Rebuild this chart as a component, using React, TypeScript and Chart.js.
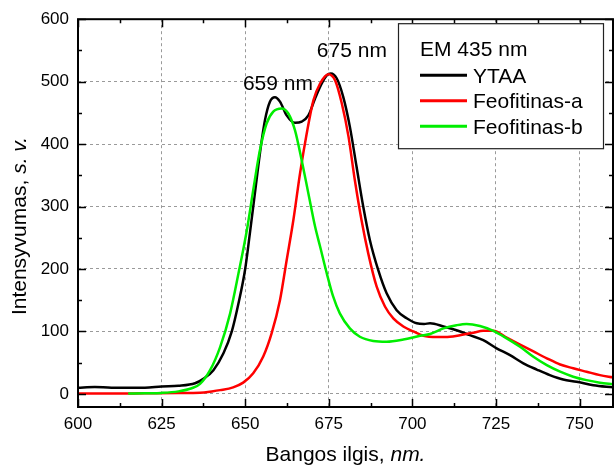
import React, { useEffect, useRef } from "react";
import { Chart, registerables } from "chart.js";

Chart.register(...registerables);

const FONT = "'Liberation Sans', Arial, Helvetica, sans-serif";

// Axis ranges and tick labels
const xRange = [600, 760];
const yRange = [-21, 600];
const xTicks = [600, 625, 650, 675, 700, 725, 750];
const yTicks = [0, 100, 200, 300, 400, 500, 600];

// Series
const seriesLabels = ["YTAA", "Feofitinas-a", "Feofitinas-b"];
const seriesColors = ["#000000", "#ff0000", "#00ee00"];

const ytaaX = [600, 605, 610, 615, 620, 625, 630, 635, 637.5, 640.5, 643.5, 646, 648, 650, 651.4, 652.9, 654.4, 655.9, 657.4, 658.9, 660.4, 662.4, 664.9, 666.9, 668.9, 670.9, 672.9, 674.4, 675.6, 677.4, 679.3, 681.3, 683.3, 685.3, 687.3, 689.8, 692.3, 695.3, 698.3, 701.3, 703.5, 705.3, 709.3, 713.2, 717.2, 721.2, 725.2, 729.2, 733.2, 737.2, 741.1, 745.1, 749.1, 754.1, 760];
const ytaaY = [10, 11, 10, 10, 10, 12, 13, 17, 24, 38, 65, 100, 145, 200, 257, 321, 385, 438, 468, 475, 468, 446, 434, 436, 446, 473, 497, 510, 513, 505, 476, 428, 364, 300, 246, 198, 161, 134, 121, 113, 112, 113, 108, 102, 94, 86, 73, 62, 49, 39, 30, 23, 19.5, 14, 10.5];

const feoAX = [600, 610, 620, 630, 636.5, 640, 642.5, 646.4, 649.4, 652.4, 655.4, 657.9, 660.4, 662.4, 664.4, 666.4, 668.4, 670.4, 672.4, 674.9, 676.9, 678.9, 680.9, 682.8, 684.8, 686.8, 689.3, 691.8, 694.3, 697.3, 700.3, 703.3, 707.3, 711.2, 714.2, 718.2, 721.2, 724.2, 728.2, 732.2, 736.2, 740.2, 744.2, 748.1, 752.1, 756.1, 760];
const feoAY = [0.5, 0.5, 1, 1.5, 2, 4, 6, 10.5, 18, 33, 60, 97, 150, 214, 278, 353, 417, 470, 497, 512, 502, 465, 412, 342, 278, 225, 172, 140, 121, 108, 100, 93, 91, 91.5, 94, 98, 101, 101, 90, 79, 68, 57, 47, 41, 35.5, 30, 26.5];

const feoBX = [615, 620, 625, 630, 634, 636.5, 639.5, 642.5, 645.5, 648, 650.5, 652.4, 654.4, 656.4, 658.4, 660.9, 662.9, 664.9, 666.9, 668.9, 670.9, 672.4, 674.4, 676.3, 678.3, 681.3, 684.3, 688.3, 692.3, 697.3, 702.3, 705.3, 709.3, 713.2, 716.2, 720.2, 724.2, 728.2, 732.2, 736.2, 740.2, 744.2, 748.1, 752.1, 756.1, 760];
const feoBY = [0.5, 1, 1.6, 4, 9, 16, 38, 75, 129, 193, 262, 326, 390, 433, 452, 457, 449, 422, 374, 321, 268, 236, 193, 156, 129, 105, 91.5, 84.7, 83.5, 87, 93, 96, 105, 110, 112, 108.7, 101, 89, 75.5, 59.5, 46, 35.5, 27.5, 22, 18, 15.4];

// Texts
const legendTitle = "EM 435 nm";
const peakTexts = ["659 nm", "675 nm"];
const peakTextX = [659.8, 681.9];
const peakTextY = [486, 540];
const xTitleParts = ["Bangos ilgis, ", "nm."];
const yTitleParts = ["Intensyvumas, ", "s. v."];

const toPoints = (xs: number[], ys: number[]) => xs.map((x, i) => ({ x, y: ys[i] }));

function drawMixed(ctx: CanvasRenderingContext2D, parts: string[], cx: number, by: number, size: number) {
  const fN = `${size}px ${FONT}`;
  const fI = `italic ${size}px ${FONT}`;
  ctx.font = fN;
  const w1 = ctx.measureText(parts[0]).width;
  ctx.font = fI;
  const w2 = ctx.measureText(parts[1]).width;
  const x0 = cx - (w1 + w2) / 2;
  ctx.textAlign = "left";
  ctx.textBaseline = "alphabetic";
  ctx.fillStyle = "#000";
  ctx.font = fN;
  ctx.fillText(parts[0], x0, by);
  ctx.font = fI;
  ctx.fillText(parts[1], x0 + w1, by);
}

const extrasPlugin = {
  id: "extras",
  afterDatasetsDraw(chart: any) {
    const ctx: CanvasRenderingContext2D = chart.ctx;
    const { left, right, top, bottom } = chart.chartArea;
    const xs = chart.scales.x;
    const ys = chart.scales.y;
    ctx.save();

    // inward ticks on all four sides
    const xMinor: number[] = [];
    for (let i = 0; i < xTicks.length - 1; i++) xMinor.push((xTicks[i] + xTicks[i + 1]) / 2);
    const yMinor: number[] = [];
    for (let i = 0; i < yTicks.length - 1; i++) yMinor.push((yTicks[i] + yTicks[i + 1]) / 2);
    ctx.strokeStyle = "#000";
    ctx.lineWidth = 1.5;
    ctx.beginPath();
    const tickX = (v: number, len: number) => {
      const p = Math.round(xs.getPixelForValue(v)) + 0.5;
      ctx.moveTo(p, bottom);
      ctx.lineTo(p, bottom - len);
      ctx.moveTo(p, top);
      ctx.lineTo(p, top + len);
    };
    const tickY = (v: number, len: number) => {
      const p = Math.round(ys.getPixelForValue(v)) + 0.5;
      ctx.moveTo(left, p);
      ctx.lineTo(left + len, p);
      ctx.moveTo(right, p);
      ctx.lineTo(right - len, p);
    };
    xTicks.forEach((v) => tickX(v, 8));
    xMinor.forEach((v) => tickX(v, 4));
    yTicks.forEach((v) => tickY(v, 8));
    yMinor.forEach((v) => tickY(v, 4));
    ctx.stroke();

    // frame
    ctx.lineWidth = 2;
    ctx.strokeRect(left, top, right - left, bottom - top);

    // peak annotations
    ctx.fillStyle = "#000";
    ctx.font = `21px ${FONT}`;
    ctx.textAlign = "center";
    ctx.textBaseline = "alphabetic";
    peakTexts.forEach((t, i) => {
      ctx.fillText(t, xs.getPixelForValue(peakTextX[i]), ys.getPixelForValue(peakTextY[i]));
    });

    // legend box
    const bx = right - 215, by = top + 4, bw = 205, bh = 125;
    ctx.fillStyle = "#fff";
    ctx.fillRect(bx, by, bw, bh);
    ctx.strokeStyle = "#222";
    ctx.lineWidth = 1.2;
    ctx.strokeRect(bx + 0.5, by + 0.5, bw, bh);
    ctx.fillStyle = "#000";
    ctx.font = `21px ${FONT}`;
    ctx.textAlign = "left";
    ctx.textBaseline = "alphabetic";
    ctx.fillText(legendTitle, bx + 22, by + 33);
    chart.data.datasets.forEach((ds: any, i: number) => {
      const ly = by + 52 + i * 25.5;
      ctx.strokeStyle = ds.borderColor;
      ctx.lineWidth = 3;
      ctx.beginPath();
      ctx.moveTo(bx + 22, ly);
      ctx.lineTo(bx + 69, ly);
      ctx.stroke();
      ctx.fillStyle = "#000";
      ctx.fillText(ds.label, bx + 75, ly + 7.5);
    });

    // axis titles
    drawMixed(ctx, xTitleParts, (left + right) / 2, 461, 21);
    ctx.save();
    ctx.translate(25.5, 226);
    ctx.rotate(-Math.PI / 2);
    drawMixed(ctx, yTitleParts, 0, 0, 21);
    ctx.restore();

    ctx.restore();
  },
};

export default function App() {
  const ref = useRef<HTMLCanvasElement | null>(null);
  useEffect(() => {
    if (!ref.current) return;
    const xsArr = [ytaaX, feoAX, feoBX];
    const ysArr = [ytaaY, feoAY, feoBY];
    const chart = new Chart(ref.current, {
      type: "line",
      data: {
        datasets: seriesLabels.map((label, i) => ({
          label,
          data: toPoints(xsArr[i], ysArr[i]),
          borderColor: seriesColors[i],
          backgroundColor: seriesColors[i],
          borderWidth: 2.5,
          pointRadius: 0,
          fill: false,
          cubicInterpolationMode: "monotone" as const,
          order: 3 - i,
        })),
      },
      options: {
        responsive: false,
        animation: false,
        layout: { padding: { top: 19, right: 1, left: 0, bottom: 0 } },
        plugins: { legend: { display: false }, tooltip: { enabled: false } },
        scales: {
          x: {
            type: "linear",
            min: xRange[0],
            max: xRange[1],
            afterBuildTicks: (s: any) => {
              s.ticks = xTicks.map((v) => ({ value: v }));
            },
            afterFit: (s: any) => {
              s.height = 61;
            },
            grid: { color: "#9a9a9a", lineWidth: 1, drawTicks: false },
            border: { display: false, dash: [3, 3] },
            ticks: {
              color: "#000",
              font: { family: FONT, size: 17 },
              padding: 7,
              maxRotation: 0,
              autoSkip: false,
            },
          },
          y: {
            type: "linear",
            min: yRange[0],
            max: yRange[1],
            afterBuildTicks: (s: any) => {
              s.ticks = yTicks.map((v) => ({ value: v }));
            },
            afterFit: (s: any) => {
              s.width = 78;
            },
            grid: { color: "#9a9a9a", lineWidth: 1, drawTicks: false },
            border: { display: false, dash: [3, 3] },
            ticks: {
              color: "#000",
              font: { family: FONT, size: 17 },
              padding: 9,
              autoSkip: false,
            },
          },
        },
      },
      plugins: [extrasPlugin],
    });
    return () => chart.destroy();
  }, []);
  return (
    <div style={{ position: "absolute", left: 0, top: 0, width: 614, height: 468, background: "#fff" }}>
      <canvas ref={ref} width={614} height={468} />
    </div>
  );
}
